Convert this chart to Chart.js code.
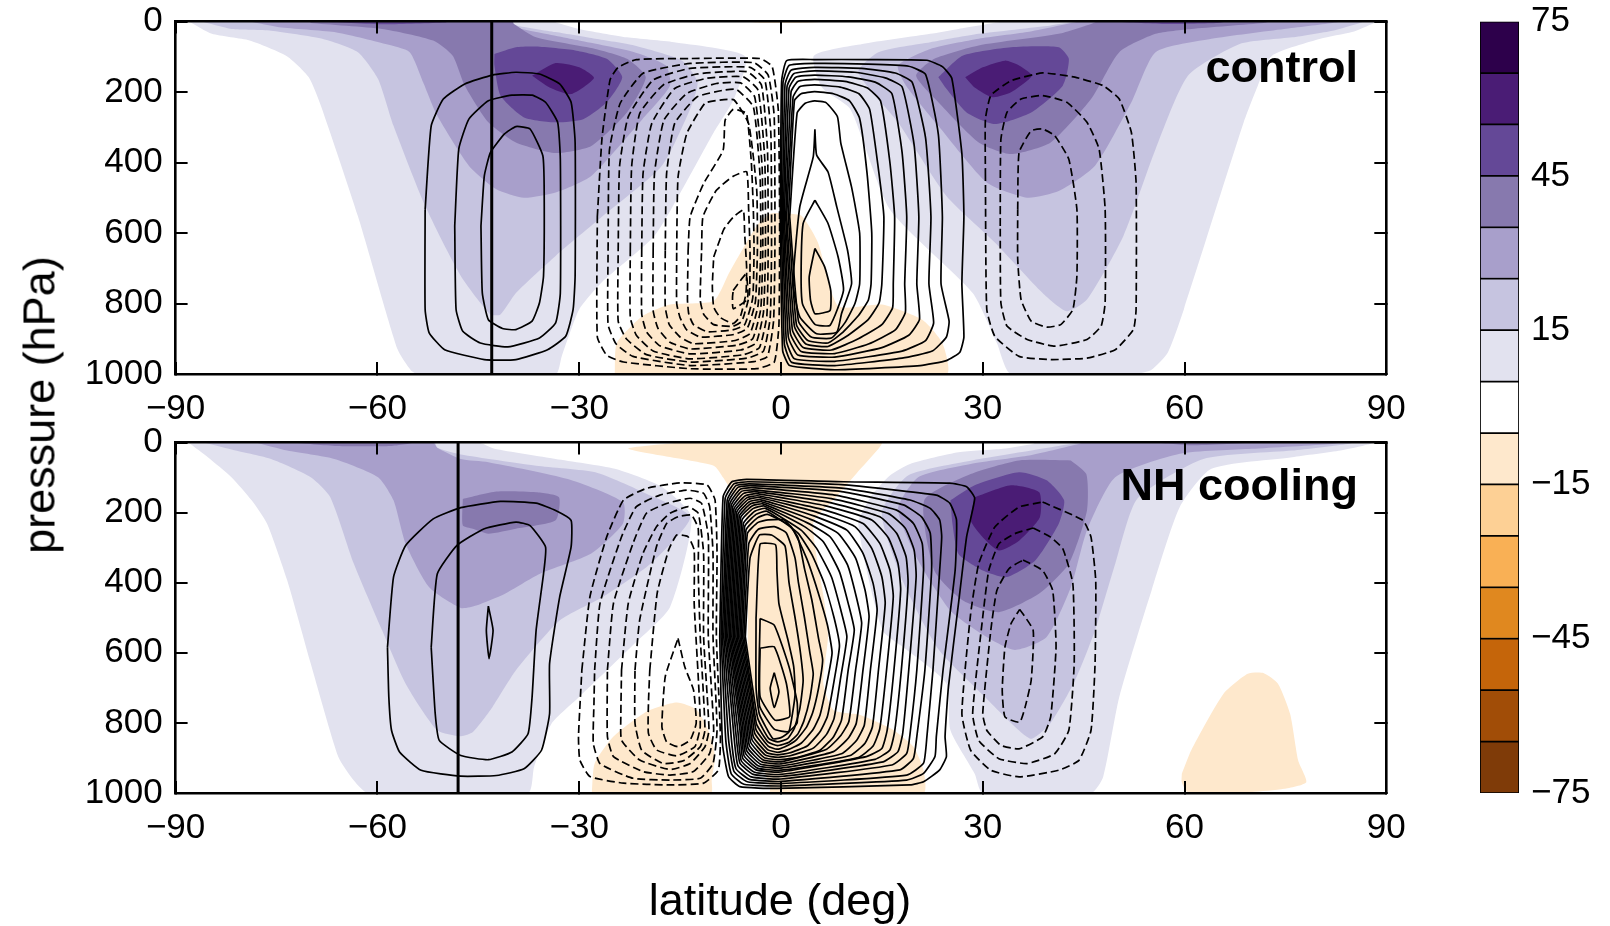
<!DOCTYPE html>
<html>
<head>
<meta charset="utf-8">
<script src="https://cdn.jsdelivr.net/npm/chart.js@4"></script>
<style>
html, body { margin: 0; background: #fff; }
body { width: 1610px; height: 926px; position: relative; overflow: hidden; font-family: "Liberation Sans", sans-serif; color: #000; }
canvas { position: absolute; }
.lab { position: absolute; white-space: nowrap; line-height: 1; font-size: 45px; }
.bold { font-weight: bold; }
</style>
</head>
<body>
<canvas id="panelTop" width="1430" height="440" style="left:0;top:0"></canvas>
<canvas id="panelBottom" width="1430" height="526" style="left:0;top:400px"></canvas>
<canvas id="colorbar" width="180" height="926" style="left:1430px;top:0"></canvas>
<div class="lab bold" style="right:252px;top:44px">control</div>
<div class="lab bold" style="right:252px;top:462px">NH cooling</div>
<div class="lab" style="left:780px;top:877px;transform:translateX(-50%)">latitude (deg)</div>
<div class="lab" style="left:39px;top:405px;transform:translate(-50%,-50%) rotate(-90deg)">pressure (hPa)</div>
<script>
// axis values
const latMin = -90, latMax = 90, latStep = 30;
const presMin = 0, presMax = 1000, presStep = 200;
const barEdges = [-75, -65, -55, -45, -35, -25, -15, -5, 5, 15, 25, 35, 45, 55, 65, 75];
const barColors = ['#7f3b08', '#a14d07', '#c5650a', '#e0881f', '#f9b055', '#fdd095', '#fee8cc', '#ffffff',
    '#e2e2ef', '#c6c4e0', '#a89fcb', '#8779ae', '#644897', '#4a1c75', '#2d004b'];

// jet latitude marks
const ctlJetLat = -43;
const coolJetLat = -48;

// control: filled zonal wind, [lat, hPa]
const ctlWind5S = [[-88,0],[-84.6,35],[-79,54],[-73.4,99],[-70.2,158],[-68.4,239],[-62.9,552],[-57,930],[-55,990],[-54,1000],[-33.5,1000],[-32.6,950],[-30,817],[-26.7,741],[-18.8,608],[-14.1,457],[-10,315],[-7,220],[-5.3,99],[-15.9,59],[-22.9,45],[-30,21],[-33.5,2],[-33.5,0]];
const ctlWind5N = [[33,0],[26.4,21],[22.2,35],[12.1,64],[4.9,97],[6.1,187],[10.3,248],[16.2,533],[28.5,770],[32.1,912],[34.2,1000],[52.7,1000],[55.1,988],[57.5,940],[59.9,817],[68.8,286],[70.9,182],[73,97],[80.2,49],[84.9,30],[88.2,4],[88.5,0]];
const ctlWind15S = [[-86.1,0],[-81.7,21],[-75.8,26],[-68.2,49],[-62.9,87],[-59.9,163],[-57.6,296],[-52.9,523],[-47.6,722],[-43.2,831],[-41.7,831],[-39.4,770],[-33.5,665],[-26.5,552],[-17.7,409],[-13.5,248],[-12.4,172],[-14.7,111],[-21.8,68],[-27.6,49],[-33.5,30],[-39.4,11],[-40.6,0]];
const ctlWind15N = [[43.7,0],[40.1,11],[29.4,35],[22.2,59],[14.5,87],[11.5,144],[17.4,286],[24.6,495],[31.8,627],[38.9,770],[42.5,822],[45.5,789],[50.9,609],[55.7,362],[60.5,154],[68.2,64],[76,45],[82,26],[86.1,4],[86.5,0]];
const ctlWind25S = [[-79,0],[-74.6,16],[-66.4,30],[-58.8,64],[-55.2,87],[-53.2,172],[-51.1,267],[-46.4,409],[-42.3,476],[-38.2,500],[-33.5,485],[-28.2,438],[-20.6,277],[-16.5,182],[-17.1,125],[-21.8,87],[-30,54],[-36.4,30],[-44.7,0]];
const ctlWind25N = [[44.3,0],[36.6,30],[29.4,49],[22.2,78],[17.4,125],[18.6,182],[23.4,296],[30.6,457],[36.6,500],[41.3,481],[46.7,409],[52.1,229],[55.7,87],[64,49],[74.8,21],[82,4],[83,0]];
const ctlWind35S = [[-70,0],[-69.9,4],[-59.3,21],[-51.7,54],[-48.8,97],[-47,182],[-43.5,286],[-39.4,343],[-33.5,373],[-28.2,353],[-22.9,258],[-20.1,158],[-22.9,106],[-27.6,78],[-36.4,45],[-39.7,7],[-39.9,0]];
const ctlWind35N = [[47,0],[46.1,7],[41.3,35],[29.4,68],[22.8,106],[20.1,154],[23.4,229],[29.4,343],[34.2,376],[40.1,343],[46.1,220],[50.3,87],[55.7,35],[61,21],[71.8,4],[72.5,0]];
const ctlWind45Sa = [[-68.7,0],[-59,8],[-50,3],[-49.5,0]];
const ctlWind45Sb = [[-42.6,92],[-39.4,73],[-36.4,71],[-30.6,82],[-25.9,106],[-23.6,158],[-25.9,229],[-29.4,277],[-33.5,286],[-38.2,272],[-41.7,210],[-42.6,125]];
const ctlWind45Na = [[49,0],[57,7],[65,4],[66,0]];
const ctlWind45Nb = [[23.4,158],[27,97],[34.2,73],[41.3,73],[42.8,106],[41.9,182],[37.2,258],[31.8,291],[27.6,258],[24.6,191]];
const ctlWind55S = [[-37,154],[-33.5,118],[-30,130],[-27.8,160],[-31.2,206],[-34.4,187]];
const ctlWind55N = [[27.4,158],[30,130],[33.3,111],[35.4,125],[37.3,154],[34.2,201],[31.5,215],[28.8,187]];
const ctlEast5a = [[-24.7,1000],[-24.4,912],[-20.6,836],[-16.5,803],[-10,793],[-7.7,713],[-3.6,580],[-1.5,545],[1,545],[3.1,552],[5.5,627],[8.5,807],[15,803],[21,846],[24,912],[24.6,1000]];
const ctlEast5b = [[-5.3,0],[6.7,0],[3,4],[-3,4]];

// control: solid streamfunction, southern cell
const ctlSolidS1 = [[-52.9,533],[-52,296],[-50.2,220],[-47,177],[-42.9,152],[-39.4,144],[-35.9,149],[-32.9,177],[-31.2,229],[-30.6,343],[-30.6,722],[-30.9,817],[-32,893],[-34.7,931],[-39.4,959],[-44.1,959],[-50,931],[-52.3,883],[-52.9,817]];
const ctlSolidS2 = [[-48.5,580],[-47.9,362],[-46.4,277],[-43.5,225],[-40,209],[-37,209],[-35,229],[-33.2,286],[-32.8,391],[-32.8,770],[-33.5,855],[-35.9,898],[-40.6,923],[-44.7,912],[-47.3,879],[-48.3,817]];
const ctlSolidS3 = [[-44.6,580],[-44.1,438],[-43.2,372],[-41.1,319],[-39.4,298],[-37.3,305],[-35.4,381],[-35.2,485],[-35.3,722],[-35.9,798],[-37,850],[-39.4,874],[-41.4,871],[-43.5,846],[-44.4,770]];

// control: solid streamfunction, northern Hadley cell
const ctlSolidN1 = [[-0.1,554],[0.1,170],[0.85,111],[5,108],[13,108],[21.7,110],[24,128],[25.4,161],[26.9,375],[27.2,554],[26.9,744],[27.2,895],[26.6,938],[24.6,962],[20.7,976],[8,988],[1.3,976],[0.25,933]];
const ctlSolidN2 = [[0.05,554],[0.3,175],[1.2,125],[5,119],[13,121],[19,127],[21.5,150],[23.4,320],[24,554],[23.8,744],[25,850],[24.6,895],[22.5,935],[18,955],[8,976],[1.6,967],[0.5,914]];
const ctlSolidN3 = [[0.2,554],[0.6,180],[1.5,138],[5,130],[12,133],[17,146],[19.5,172],[21.5,330],[22.3,554],[22,744],[22.7,855],[21.5,905],[18,935],[8,964],[2,957],[0.8,905]];
const ctlSolidN4 = [[0.35,554],[0.9,185],[1.9,148],[5,140],[11,144],[15.5,160],[18,185],[19.8,350],[20.5,554],[20.2,744],[20.6,845],[19,890],[15,925],[8,952],[2.5,946],[1.1,895]];
const ctlSolidN5 = [[0.5,554],[1.2,190],[2.2,158],[5,152],[10,157],[14,172],[16.5,205],[18,370],[18.7,554],[18.4,744],[18.5,825],[17,875],[13,915],[8,942],[3,936],[1.4,885]];
const ctlSolidN6 = [[0.7,554],[1.5,200],[2.5,170],[5,164],[9.5,170],[12.8,188],[14.8,225],[16.2,400],[16.9,554],[16.7,744],[16.6,812],[15,860],[11.5,900],[7.5,932],[3.3,925],[1.7,875]];
const ctlSolidN7 = [[0.85,554],[1.8,215],[2.8,185],[5,180],[8.8,186],[11.6,205],[13.2,250],[14.5,420],[15.3,554],[15,744],[14.6,798],[13,845],[10,890],[7,922],[3.7,915],[2,865]];
const ctlSolidN8 = [[1.1,554],[2,225],[3,205],[5,199],[7.8,205],[10.2,225],[11.7,275],[12.8,430],[13.5,600],[13.4,744],[13,790],[11.5,835],[9,885],[7,912],[4,905],[2.3,860]];
const ctlSolidN9 = [[1.3,554],[2.4,260],[3.6,232],[5,225],[6.7,230],[8.4,270],[8.9,345],[10.5,470],[11.7,600],[11.7,744],[11,800],[9.5,855],[7.5,898],[4.5,895],[2.6,850]];
const ctlSolidN10 = [[5.05,306],[5.3,379],[7,427],[8.3,526],[9.9,649],[10.5,744],[9,829],[8.3,881],[5.3,886],[2.8,838],[1.8,744],[2.8,526],[4.8,384]];
const ctlSolidN11 = [[5.05,507],[7,573],[8.5,668],[9.3,763],[7.3,862],[5.05,859],[3.2,801],[3,706],[3.3,573]];
const ctlSolidN12 = [[5.05,644],[6.5,696],[7.4,763],[7.3,820],[5.05,829],[4.4,791],[4.2,725]];

// control: dashed streamfunction, southern Hadley cell
const ctlDashS1 = [[-27.3,554],[-26.6,330],[-25.4,165],[-24.2,130],[-21.5,108],[-13.5,105],[-3.1,105],[-1.3,128],[-0.4,250],[-0.2,554],[-0.3,860],[-1,966],[-3.6,985],[-13.5,985],[-23.4,966],[-25.9,947],[-27.3,895]];
const ctlDashS2 = [[-25.7,649],[-25.5,365],[-23.9,232],[-20.5,147],[-13.5,119],[-4,117],[-1.9,152],[-1,270],[-0.9,649],[-1.1,850],[-2,950],[-4,965],[-13.5,976],[-22,950],[-24.5,915],[-25.7,860]];
const ctlDashS3 = [[-24.2,649],[-24,412],[-22.7,270],[-19,166],[-13.5,133],[-4.6,130],[-2.4,166],[-1.5,318],[-1.4,649],[-1.6,840],[-2.6,935],[-5,955],[-13.5,966],[-20,945],[-23,900],[-24.2,850]];
const ctlDashS4 = [[-22.4,649],[-22.2,412],[-21,261],[-17.5,180],[-12.5,149],[-5.1,142],[-2.9,180],[-2,365],[-1.9,649],[-2.1,835],[-3.2,925],[-5.5,945],[-13.5,957],[-19,935],[-21.5,890],[-22.4,840]];
const ctlDashS5 = [[-20.7,649],[-20.5,431],[-19.2,289],[-15.8,190],[-11,161],[-5.6,157],[-3.4,195],[-2.4,393],[-2.3,649],[-2.6,825],[-3.7,912],[-6,932],[-13.5,943],[-18,920],[-20,880],[-20.7,830]];
const ctlDashS6 = [[-19,649],[-18.8,431],[-17.4,280],[-14,204],[-9.6,176],[-6,174],[-3.9,214],[-2.8,412],[-2.7,649],[-3,815],[-4.2,900],[-6.5,918],[-13.5,929],[-16.5,910],[-18.3,870],[-19,820]];
const ctlDashS7 = [[-17.2,649],[-17,431],[-15.8,289],[-12.5,214],[-8.6,195],[-6.6,193],[-4.1,242],[-3.1,441],[-3,649],[-3.4,805],[-4.6,885],[-6.8,905],[-13,914],[-15,895],[-16.6,860],[-17.2,810]];
const ctlDashS8 = [[-15.5,649],[-15.3,441],[-14,318],[-11.3,232],[-9.1,223],[-7,222],[-4.8,290],[-3.6,479],[-3.5,649],[-3.8,795],[-5,870],[-7,888],[-12,895],[-14,875],[-15,840],[-15.5,800]];
const ctlDashS9 = [[-13.8,649],[-13.5,554],[-11.5,460],[-8.6,365],[-8.3,280],[-7.1,249],[-6.1,253],[-5.1,261],[-4.4,400],[-4.1,536],[-4,649],[-4.2,785],[-5.4,860],[-7.2,875],[-11,880],[-13,860],[-13.7,830],[-13.9,790]];
const ctlDashS10 = [[-11.8,649],[-11.6,554],[-9.6,479],[-7.1,439],[-5.1,426],[-4.8,536],[-4.6,649],[-4.7,775],[-5.8,850],[-7.2,865],[-10,860],[-11.5,830],[-12,790]];
const ctlDashS11 = [[-10,668],[-8.5,590],[-7.1,555],[-5.6,535],[-5.4,600],[-5.1,700],[-5.2,770],[-6,835],[-7.1,857],[-9,840],[-10,810],[-10.2,750]];
const ctlDashS12 = [[-7.1,763],[-5.2,717],[-4.9,772],[-5.1,791],[-7.1,815],[-7.2,782]];

// control: dashed streamfunction, northern cell
const ctlDashN1 = [[30.4,438],[30.4,277],[31.2,210],[34.2,168],[38.9,146],[43.7,158],[47.9,182],[50.3,220],[52.1,315],[52.8,457],[52.8,817],[52.4,874],[49.7,931],[45.5,955],[40.1,959],[35.4,950],[31.8,893],[30.6,817]];
const ctlDashN2 = [[32.6,580],[32.7,334],[33.6,258],[35.7,220],[38.9,210],[42.5,229],[45.5,286],[47.3,362],[48.2,533],[48.2,798],[47.6,864],[45.5,902],[40.7,921],[36.6,902],[33.6,864],[32.7,798]];
const ctlDashN3 = [[35.2,533],[35.4,372],[37.2,310],[38.9,305],[40.7,324],[42.8,391],[44,533],[44,722],[43.4,817],[41.6,860],[39.5,867],[37.2,850],[35.7,789],[35.2,675]];

// NH cooling: filled zonal wind
const coolWind5S = [[-88.1,0],[-85.2,42],[-81.7,99],[-78.7,165],[-76.4,232],[-73.4,394],[-69.9,631],[-65.8,897],[-63.5,964],[-61.4,1000],[-37.6,1000],[-36.7,926],[-34.1,802],[-30,726],[-21.8,574],[-16.5,470],[-13.3,213],[-17.7,127],[-24.7,75],[-33.5,47],[-42.6,18],[-45,0]];
const coolWind5N = [[37.5,4],[33,18],[26.4,28],[19.2,61],[16.2,94],[13.3,156],[11.5,232],[15.1,536],[18.6,590],[24.6,688],[25.2,821],[28.8,945],[30,1000],[46.1,1000],[47.9,954],[50.3,726],[55.1,422],[59.3,184],[64,75],[76,42],[83.2,23],[87.3,6],[88,0],[38,0]];
const coolWind15S = [[-85.8,0],[-81.1,23],[-75.8,47],[-69.9,99],[-67,156],[-63.5,346],[-59.3,536],[-55.8,688],[-51.1,821],[-47.6,838],[-45.8,826],[-42.9,755],[-39.4,650],[-32.9,508],[-26.5,441],[-19.4,346],[-13.5,213],[-20,146],[-27.6,85],[-36.4,66],[-47.6,34],[-51.1,15],[-51.5,0]];
const coolWind15N = [[44.3,0],[37.2,23],[28.2,52],[18.9,94],[15,200],[18,390],[23.4,590],[30,720],[34.2,800],[37.2,845],[40.1,800],[43.7,680],[46.7,536],[49.7,346],[53,160],[62.8,47],[76,23],[84.3,4],[85,0]];
const coolWind25S = [[-78.1,0],[-73.4,23],[-66.4,47],[-59.9,99],[-57.6,165],[-55.8,289],[-52.3,413],[-47.6,472],[-45.3,465],[-41.1,432],[-35.9,375],[-28.2,317],[-23.5,232],[-23.5,170],[-31.7,104],[-43.5,56],[-47.6,47],[-51.1,15],[-51.7,0]];
const coolWind25N = [[44.3,4],[36.6,38],[28.2,61],[20.4,99],[17.4,190],[20.4,337],[25.2,480],[30.6,555],[34.8,592],[39.5,555],[43.1,413],[45.5,250],[49.7,99],[59.3,32],[70,18],[82,4],[83,0],[45,0]];
const coolWind35Sa = [[-72.9,0],[-66,10],[-58,10],[-54.6,0]];
const coolWind35Sb = [[-47.3,161],[-42.3,140],[-36.4,142],[-33,156],[-33.5,222],[-39.4,246],[-43.5,260],[-45.8,246],[-47.3,237]];
const coolWind35Na = [[55.7,0],[61,8],[70,0]];
const coolWind35Nb = [[43.1,51],[35.4,51],[28.2,90],[21.3,165],[22.8,365],[27,450],[32.4,484],[38.4,431],[42.8,346],[45.5,194],[45.4,90]];
const coolWind45N = [[25.2,165],[28.8,122],[35.4,85],[39.5,108],[42.1,165],[41.3,232],[37.8,337],[33.6,384],[30,365],[26.4,318],[25.5,232]];
const coolWind55N = [[28.8,156],[34.2,122],[38.4,142],[38.5,213],[35.4,280],[32.4,308],[30,270],[28.2,222]];
const coolEast5a = [[-15,0],[-22.7,18],[-10,66],[-8.6,100],[-7,150],[-5,225],[-4.9,700],[-4.1,840],[-1.6,985],[-1.6,1000],[21.2,1000],[21.2,935],[19.7,868],[16.7,820],[11.7,777],[7.8,763],[6.3,687],[7,554],[6.5,459],[4.8,230],[8,160],[11.2,89],[14.5,18],[15,0]];
const coolEast5b = [[-28.1,1000],[-28.1,992],[-27.7,916],[-24.9,839],[-20,768],[-15.5,742],[-12.5,763],[-10.6,830],[-9.8,896],[-10.3,963],[-10.4,1000]];
const coolEast5c = [[59.6,945],[61,878],[65.8,717],[69.4,660],[71.8,658],[73.9,688],[75.7,774],[76.9,907],[78.1,969],[74.8,988],[70,997],[60.5,997],[59.6,969]];

// NH cooling: solid streamfunction, southern cell
const coolSolidS1 = [[-58.5,584],[-57.6,384],[-55.8,294],[-51.7,218],[-47.6,186],[-41.7,168],[-36.4,173],[-33.5,194],[-31.2,222],[-31.2,298],[-32.9,441],[-34.4,631],[-34.4,774],[-35.6,878],[-38.2,931],[-42.3,950],[-47.6,952],[-53.5,935],[-56.7,883],[-57.9,821],[-58.3,726]];
const coolSolidS2 = [[-52,584],[-51.1,375],[-48.2,294],[-44.1,246],[-39.4,227],[-37.3,237],[-35,298],[-35.3,375],[-36.4,536],[-37,726],[-37.6,831],[-40,883],[-43.5,905],[-47.6,893],[-50.8,850],[-51.4,774]];
const coolSolidS3 = [[-43.5,467],[-42.8,536],[-43.4,617],[-43.8,536]];

// NH cooling: solid streamfunction, northern Hadley cell
const coolSolidN1 = [[-9.1,554],[-8.6,155],[-7.3,112],[-5.1,105],[9.3,112],[25.1,116],[27.6,126],[28.8,159],[27.6,269],[26.4,459],[24.9,697],[24.4,839],[24.6,896],[23.6,934],[21.2,968],[19.2,977],[-0.6,987],[-6.1,982],[-7.8,953],[-8.7,858]];
const coolSolidN2 = [[-8.9,554],[-8.3,160],[-7,118],[-4.9,112],[9,120],[23.1,150],[25.1,173],[26.1,221],[25.9,364],[24.1,649],[23.1,839],[22.9,896],[21.2,944],[18.7,963],[0,980],[-5.5,975],[-7.4,945],[-8.2,850]];
const coolSolidN3 = [[-8.7,554],[-8,165],[-6.7,123],[-4.7,118],[9,130],[19.2,164],[22.2,188],[23.6,221],[23.9,269],[23.6,364],[22.6,649],[21.7,839],[21.2,915],[18.7,949],[0,973],[-5,968],[-7,938],[-7.8,845]];
const coolSolidN4 = [[-8.5,554],[-7.8,170],[-6.4,128],[-4.5,123],[9,140],[18.2,178],[20.9,212],[22.2,259],[22.4,364],[21.4,649],[20.2,839],[19.7,901],[17.7,934],[0,967],[-4.7,961],[-6.7,930],[-7.4,840]];
const coolSolidN5 = [[-8.3,554],[-7.6,175],[-6.1,134],[-4.3,129],[8,150],[17.2,193],[19.7,231],[21,288],[21.2,364],[20.2,649],[19.2,830],[18.7,887],[16.5,920],[0,960],[-4.4,954],[-6.4,922],[-7,835]];
const coolSolidN6 = [[-8.1,554],[-7.4,180],[-5.9,140],[-4.1,135],[7.5,160],[16,203],[18.5,245],[19.8,307],[20.1,383],[19,649],[18.1,830],[17.4,882],[15.2,911],[0,953],[-4.1,947],[-6.1,915],[-6.7,830]];
const coolSolidN7 = [[-7.9,554],[-7.2,185],[-5.6,146],[-3.9,140],[7,170],[14.7,212],[17.2,259],[18.6,326],[18.9,402],[17.9,649],[16.9,825],[16.2,877],[14,904],[0,947],[-3.9,941],[-5.9,908],[-6.4,825]];
const coolSolidN8 = [[-7.7,554],[-7,190],[-5.3,152],[-3.7,146],[6.5,180],[13.5,221],[16,273],[17.4,345],[17.8,421],[16.8,649],[15.8,820],[15,873],[12.7,896],[0,940],[-3.7,934],[-5.7,900],[-6.1,820]];
const coolSolidN9 = [[-7.5,554],[-6.8,195],[-5.1,158],[-3.5,152],[6,190],[12.2,231],[14.7,288],[16.2,364],[16.7,440],[15.7,649],[14.7,816],[13.7,866],[11.5,899],[0,935],[-3.5,929],[-5.5,893],[-5.9,815]];
const coolSolidN10 = [[-7.3,554],[-6.6,200],[-4.9,163],[-3.3,157],[5.5,200],[11,240],[13.5,302],[15,383],[15.5,459],[14.5,649],[13.6,811],[12.5,858],[10.3,893],[0,929],[-3.3,923],[-5.3,886],[-5.7,810]];
const coolSolidN11 = [[-7.1,554],[-6.4,205],[-4.7,169],[-3.1,163],[5,210],[9.8,250],[12.2,316],[13.7,402],[14.3,478],[13.3,649],[12.4,806],[11.2,851],[9,888],[0,923],[-3.1,917],[-5.1,879],[-5.5,805]];
const coolSolidN12 = [[-6.9,554],[-6.2,210],[-4.5,175],[-2.9,169],[4.5,220],[8.5,259],[11.1,330],[12.5,421],[13.1,497],[12.2,649],[11.2,801],[10,844],[7.8,882],[0,917],[-2.9,911],[-4.9,872],[-5.3,800]];
const coolSolidN13 = [[-6.7,554],[-6,215],[-4.3,181],[-2.7,175],[4,230],[7.3,269],[9.9,349],[11.2,440],[12,516],[11.1,649],[10.1,796],[8.9,836],[6.8,875],[0,911],[-2.7,905],[-4.7,864],[-5.1,795]];
const coolSolidN14 = [[-6.5,554],[-5.8,222],[-4.1,188],[-2.5,181],[3.5,240],[6.3,283],[8.7,369],[10,459],[10.9,535],[10,649],[9,792],[7.8,840],[5.8,878],[2,900],[-0.5,905],[-2.5,899],[-4.5,856],[-4.9,790]];
const coolSolidN15 = [[-6.3,554],[-5.6,232],[-3.9,196],[-2.3,188],[3,250],[5.3,302],[7.5,383],[8.9,478],[9.8,554],[8.9,668],[7.9,787],[6.8,832],[4.8,872],[1.5,893],[-0.5,898],[-2.3,892],[-4.3,848],[-4.7,785]];
const coolSolidN16 = [[-6.1,554],[-5.4,240],[-3.7,205],[-2.1,196],[2.5,258],[4.6,320],[6.4,400],[7.9,500],[8.7,580],[7.9,680],[6.9,782],[5.8,825],[3.9,866],[1.2,886],[-0.5,891],[-2.1,885],[-4.1,840],[-4.5,780]];
const coolSolidN17 = [[-5.9,554],[-5.2,250],[-3.5,215],[-2,205],[1.5,240],[3.8,330],[5.4,420],[6.9,520],[7.6,600],[6.8,690],[5.8,778],[4.8,818],[3,858],[1,877],[-0.5,884],[-2,876],[-3.9,830],[-4.3,775]];
const coolSolidN18 = [[-5.7,554],[-5,260],[-3.4,228],[-1.9,221],[0.5,221],[2.5,270],[3.5,360],[4.6,450],[5.6,560],[6.2,620],[5.6,700],[4.7,772],[3.8,812],[2.2,850],[0.6,868],[-0.6,875],[-1.9,866],[-3.7,820],[-4.1,770]];
const coolSolidN19 = [[-5.5,554],[-4.8,290],[-3.4,248],[-1,240],[0.8,258],[2.1,330],[2.6,400],[3.5,500],[4.3,600],[4.8,660],[4.3,730],[3.4,795],[2.5,832],[1.2,855],[-0.5,865],[-1.9,855],[-3.6,805],[-4,760]];
const coolSolidN20 = [[-5.3,554],[-4.6,330],[-3.2,264],[-1.4,264],[0.6,295],[1.2,400],[2.1,500],[2.9,600],[3.3,680],[2.8,760],[2,815],[1,845],[-0.5,854],[-1.8,845],[-3.4,790],[-3.9,740]];
const coolSolidN21 = [[-3.7,500],[-3.1,290],[-0.8,292],[-0.6,365],[-0.3,460],[1,560],[1.9,640],[2.1,720],[1.2,825],[0,842],[-1.2,845],[-3.2,775],[-3.7,700]];
const coolSolidN22 = [[-3.1,502],[-1,521],[1.2,640],[2.4,740],[2.4,800],[1.1,825],[-1,818],[-3.2,750]];
const coolSolidN23 = [[-3.1,587],[-1,583],[0.8,687],[1.3,782],[-0.9,792],[-3.1,725]];
const coolSolidN24 = [[-1,657],[-0.3,711],[-1,756],[-1.6,701]];

// NH cooling: dashed streamfunction, southern Hadley cell
const coolDashS1 = [[-29.6,649],[-28.4,440],[-25.9,269],[-23.4,164],[-20,131],[-15,115],[-11,121],[-9.8,164],[-9.5,316],[-9.6,554],[-9,839],[-9.3,934],[-11.5,972],[-16.5,977],[-23.4,972],[-28.4,953],[-29.9,906],[-30.1,839]];
const coolDashS2 = [[-27.7,649],[-26.9,459],[-23.7,269],[-21.5,183],[-18,150],[-14,136],[-11.5,145],[-10.6,183],[-10.1,316],[-10.1,554],[-9.5,820],[-10.1,916],[-12,958],[-16.5,963],[-22,958],[-26.9,916],[-27.9,858],[-27.8,744]];
const coolDashS3 = [[-25.8,649],[-24.9,459],[-22,288],[-20,202],[-17,174],[-13.5,159],[-11.8,174],[-10.8,269],[-10.8,554],[-10,820],[-10.6,887],[-13,939],[-16.5,949],[-20.5,939],[-24.9,896],[-25.8,839]];
const coolDashS4 = [[-23.7,649],[-22.7,459],[-20.5,316],[-18.5,240],[-16.5,202],[-13.8,183],[-12.3,202],[-11.5,316],[-11.5,554],[-10.7,820],[-11.3,868],[-13.5,916],[-16.5,933],[-21,906],[-23.7,849],[-23.8,773]];
const coolDashS5 = [[-21.7,649],[-21,506],[-18.5,297],[-17,231],[-15.3,212],[-13.3,207],[-12.3,245],[-12.3,364],[-12,554],[-11.3,820],[-12,868],[-14.5,908],[-17.5,916],[-20.7,878],[-21.7,801]];
const coolDashS6 = [[-19.5,649],[-18.4,430],[-16.7,307],[-15.5,264],[-13.8,269],[-12.9,307],[-12.9,459],[-12.3,668],[-12,811],[-12.8,868],[-15.5,894],[-18.5,877],[-19.7,830],[-19.7,744]];
const coolDashS7 = [[-15.3,559],[-14.3,640],[-13,706],[-12.6,801],[-13.5,849],[-15.3,868],[-17,854],[-17.7,811],[-17.2,668]];

// NH cooling: dashed streamfunction, northern cell
const coolDashN1 = [[38.9,170],[44.9,222],[46.1,270],[46.8,394],[46.7,631],[46.1,821],[44.3,907],[41.3,935],[35.4,954],[31.2,935],[28.2,878],[26.9,774],[28.2,489],[29.4,346],[31.8,241],[35.4,184]];
const coolDashN2 = [[37.5,244],[40.1,270],[41.9,303],[43.4,403],[43.6,631],[42.8,821],[40.7,888],[36.6,916],[32.4,902],[29.4,850],[28.5,774],[30,498],[30.9,365],[32.4,289],[34.8,260]];
const coolDashN3 = [[36,335],[38.9,365],[40.4,422],[40.9,584],[40.1,783],[38.9,840],[35.4,874],[32.7,864],[30.6,821],[30,774],[31.2,536],[32.1,422],[33.9,360]];
const coolDashN4 = [[35.5,476],[37.5,536],[37.2,679],[36.3,755],[35.5,798],[33.3,783],[32.9,707],[33.3,584],[34.2,517]];

const fillsTop = [
    [ctlWind5S, '#e2e2ef'], [ctlWind5N, '#e2e2ef'], [ctlEast5a, '#fee8cc'], [ctlEast5b, '#fee8cc'],
    [ctlWind15S, '#c6c4e0'], [ctlWind15N, '#c6c4e0'], [ctlWind25S, '#a89fcb'], [ctlWind25N, '#a89fcb'],
    [ctlWind35S, '#8779ae'], [ctlWind35N, '#8779ae'], [ctlWind45Sa, '#644897'], [ctlWind45Sb, '#644897'],
    [ctlWind45Na, '#644897'], [ctlWind45Nb, '#644897'], [ctlWind55S, '#4a1c75'], [ctlWind55N, '#4a1c75']
];
const fillsBottom = [
    [coolWind5S, '#e2e2ef'], [coolWind5N, '#e2e2ef'], [coolEast5a, '#fee8cc'], [coolEast5b, '#fee8cc'], [coolEast5c, '#fee8cc'],
    [coolWind15S, '#c6c4e0'], [coolWind15N, '#c6c4e0'], [coolWind25S, '#a89fcb'], [coolWind25N, '#a89fcb'],
    [coolWind35Sa, '#8779ae'], [coolWind35Sb, '#8779ae'], [coolWind35Na, '#8779ae'], [coolWind35Nb, '#8779ae'],
    [coolWind45N, '#644897'], [coolWind55N, '#4a1c75']
];
const solidTop = [ctlSolidS1, ctlSolidS2, ctlSolidS3, ctlSolidN1, ctlSolidN2, ctlSolidN3, ctlSolidN4, ctlSolidN5, ctlSolidN6,
    ctlSolidN7, ctlSolidN8, ctlSolidN9, ctlSolidN10, ctlSolidN11, ctlSolidN12];
const dashTop = [ctlDashS1, ctlDashS2, ctlDashS3, ctlDashS4, ctlDashS5, ctlDashS6, ctlDashS7, ctlDashS8, ctlDashS9, ctlDashS10,
    ctlDashS11, ctlDashS12, ctlDashN1, ctlDashN2, ctlDashN3];
const solidBottom = [coolSolidS1, coolSolidS2, coolSolidS3, coolSolidN1, coolSolidN2, coolSolidN3, coolSolidN4, coolSolidN5, coolSolidN6,
    coolSolidN7, coolSolidN8, coolSolidN9, coolSolidN10, coolSolidN11, coolSolidN12, coolSolidN13, coolSolidN14, coolSolidN15,
    coolSolidN16, coolSolidN17, coolSolidN18, coolSolidN19, coolSolidN20, coolSolidN21, coolSolidN22, coolSolidN23, coolSolidN24];
const dashBottom = [coolDashS1, coolDashS2, coolDashS3, coolDashS4, coolDashS5, coolDashS6, coolDashS7, coolDashN1, coolDashN2, coolDashN3, coolDashN4];

const tickFont = { family: '"Liberation Sans", sans-serif', size: 35 };
const minus = v => String(v).replace('-', '\u2212');

function ring(points) {
    return points.concat([points[0]]).map(p => ({ x: p[0], y: p[1] }));
}

function buildDatasets(fills, solid, dashed, jetLat) {
    const sets = [];
    fills.forEach(f => sets.push({
        data: ring(f[0]), showLine: true, fill: 'shape', backgroundColor: f[1],
        borderWidth: 0, pointRadius: 0, tension: 0.2
    }));
    solid.forEach(s => sets.push({
        data: ring(s), showLine: true, borderColor: '#000', borderWidth: 1.7, pointRadius: 0, tension: 0.15
    }));
    dashed.forEach(s => sets.push({
        data: ring(s), showLine: true, borderColor: '#000', borderWidth: 1.7, borderDash: [8, 4], pointRadius: 0, tension: 0.15
    }));
    sets.push({
        data: [{ x: jetLat, y: presMin }, { x: jetLat, y: presMax }],
        showLine: true, borderColor: '#000', borderWidth: 3, pointRadius: 0
    });
    // chart.js paints the lowest order last, fills have to stay underneath
    sets.forEach((s, i) => { s.order = sets.length - i; });
    return sets;
}

// label padding would otherwise push the plot area in
function pinScale(scale, size) {
    if (scale.isHorizontal()) scale.height = size; else scale.width = size;
    scale.paddingLeft = scale.paddingRight = scale.paddingTop = scale.paddingBottom = 0;
}

function sideAxis(position, min, max, step, size, labels, padding) {
    return {
        type: 'linear', position, min, max,
        reverse: min === presMin && max === presMax,
        afterFit: scale => pinScale(scale, size),
        grid: { drawOnChartArea: false, drawTicks: true, tickLength: -12, lineWidth: 2, color: '#000', z: 2 },
        border: { display: true, color: '#000', width: 2.6, z: 2 },
        ticks: {
            display: labels, stepSize: step, autoSkip: false, maxRotation: 0, minRotation: 0,
            color: '#000', font: tickFont, padding, callback: minus
        }
    };
}

function renderPanel(id, fills, solid, dashed, jetLat, sizes) {
    new Chart(document.getElementById(id), {
        type: 'scatter',
        data: { datasets: buildDatasets(fills, solid, dashed, jetLat) },
        options: {
            responsive: false,
            animation: false,
            layout: { padding: 0 },
            plugins: { legend: { display: false }, tooltip: { enabled: false } },
            scales: {
                x: sideAxis('bottom', latMin, latMax, latStep, sizes.bottom, true, 26),
                x2: sideAxis('top', latMin, latMax, latStep, sizes.top, false, 0),
                y: sideAxis('left', presMin, presMax, presStep, 175.6, true, 25),
                y2: sideAxis('right', presMin, presMax, presStep, 43.7, false, 0)
            }
        }
    });
}

function renderColorbar() {
    new Chart(document.getElementById('colorbar'), {
        type: 'bar',
        data: {
            labels: ['wind'],
            datasets: barColors.map((c, i) => ({
                data: [[barEdges[i], barEdges[i + 1]]],
                backgroundColor: c, borderColor: '#000', borderWidth: 1.2, borderSkipped: false,
                grouped: false, barPercentage: 1, categoryPercentage: 1
            }))
        },
        options: {
            responsive: false,
            animation: false,
            layout: { padding: { left: 50, top: 21.6, bottom: 133 } },
            plugins: { legend: { display: false }, tooltip: { enabled: false } },
            scales: {
                x: { display: false },
                y: {
                    position: 'right', min: -75, max: 75,
                    afterFit: scale => pinScale(scale, 91),
                    grid: { display: false, drawTicks: false },
                    border: { display: false },
                    ticks: { stepSize: 30, autoSkip: false, color: '#000', font: tickFont, padding: 12, callback: minus }
                }
            }
        }
    });
}

renderPanel('panelTop', fillsTop, solidTop, dashTop, ctlJetLat, { top: 21.5, bottom: 66 });
renderPanel('panelBottom', fillsBottom, solidBottom, dashBottom, coolJetLat, { top: 42.5, bottom: 133 });
renderColorbar();
</script>
</body>
</html>
